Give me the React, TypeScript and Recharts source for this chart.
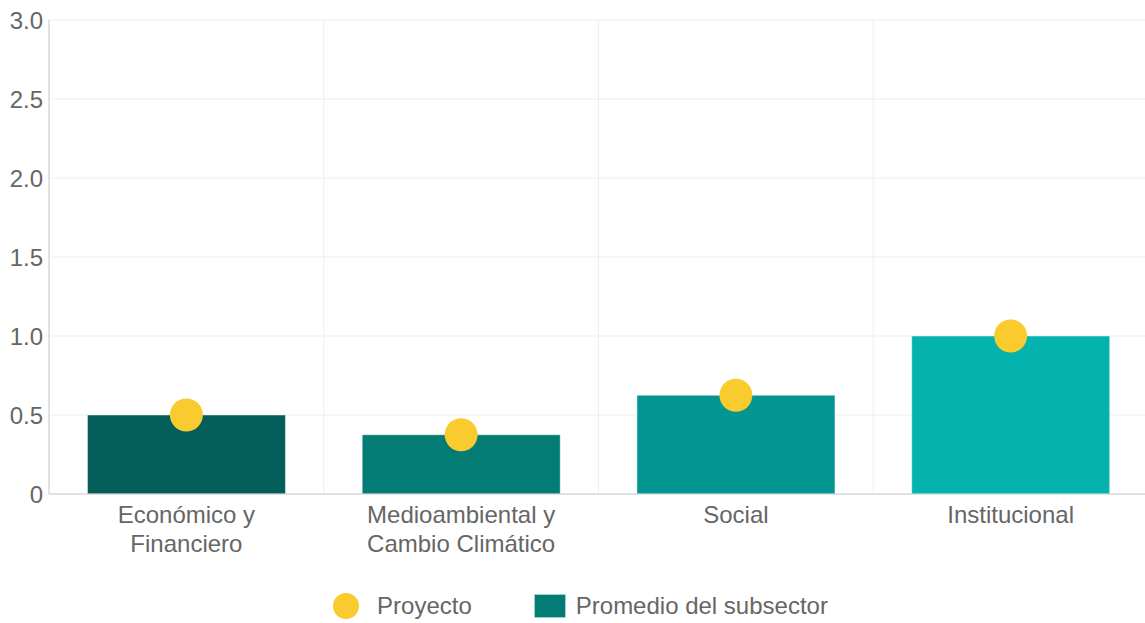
import React from "react";
import { ComposedChart, Bar, Line, XAxis, YAxis, CartesianGrid, Legend, Cell } from "recharts";

const categories = ["Económico y\nFinanciero", "Medioambiental y\nCambio Climático", "Social", "Institucional"];
const subsectorAverage = [0.5, 0.375, 0.625, 1.0];
const projectValues = [0.5, 0.375, 0.625, 1.0];
const yTicks = [0, 0.5, 1, 1.5, 2, 2.5, 3];
const barColors = ["#035E5A", "#047C76", "#03958F", "#04B2AE"];
const seriesNames = { project: "Proyecto", average: "Promedio del subsector" };

const data = categories.map((c, i) => ({ name: c, avg: subsectorAverage[i], proj: projectValues[i] }));

const FONT = "'Liberation Sans', Arial, sans-serif";
const TEXT = "#666666";

const XTick = (props: any) => {
  const { x, y, payload } = props;
  const lines = String(payload.value).split("\n");
  return (
    <text x={x} y={y} textAnchor="middle" fill={TEXT} fontSize={24} fontFamily={FONT}>
      {lines.map((l, i) => (
        <tspan key={i} x={x} dy={i === 0 ? 21 : 29}>{l}</tspan>
      ))}
    </text>
  );
};

const LegendContent = () => (
  <div style={{ height: 50, paddingTop: 16, paddingLeft: 13, boxSizing: "border-box", display: "flex", justifyContent: "center", alignItems: "flex-start", fontFamily: FONT, fontSize: 24, color: TEXT }}>
    <div style={{ display: "flex", alignItems: "center", marginRight: 62, height: 34 }}>
      <span style={{ width: 26, height: 26, borderRadius: "50%", background: "#F9CB2F", display: "inline-block", marginRight: 18 }} />
      <span>{seriesNames.project}</span>
    </div>
    <div style={{ display: "flex", alignItems: "center", height: 34 }}>
      <span style={{ width: 32, height: 24, background: "#047C76", border: "1px solid #9fd3cf", boxSizing: "border-box", display: "inline-block", marginRight: 10 }} />
      <span>{seriesNames.average}</span>
    </div>
  </div>
);

export default function App() {
  return (
    <div style={{ position: "absolute", left: 0, top: 0, width: 1145, height: 623, background: "#fff", overflow: "hidden" }}>
      <ComposedChart width={1148} height={623} data={data} margin={{ top: 20, right: 0, left: 0, bottom: 0 }} barCategoryGap="14%">
        <CartesianGrid
          stroke="#eeeeee"
          verticalCoordinatesGenerator={({ offset }: any) =>
            categories.map((_, i) => offset.left + (i * offset.width) / categories.length).concat([offset.left + offset.width])
          }
        />
        <XAxis
          dataKey="name"
          height={79}
          tick={<XTick />}
          tickLine={false}
          axisLine={{ stroke: "#cccccc" }}
          interval={0}
        />
        <YAxis
          width={49}
          domain={[0, 3]}
          ticks={yTicks}
          tickFormatter={(v: number) => (v === 0 ? "0" : v.toFixed(1))}
          tick={{ fill: TEXT, fontSize: 24, fontFamily: FONT }}
          tickLine={false}
          tickSize={0}
          axisLine={{ stroke: "#cccccc" }}
          tickMargin={6}
        />
        <Legend verticalAlign="bottom" height={50} content={<LegendContent />} />
        <Bar dataKey="avg" name={seriesNames.average} isAnimationActive={false} stroke="rgba(255,255,255,0.45)" strokeWidth={1}>
          {data.map((_, i) => (
            <Cell key={i} fill={barColors[i]} />
          ))}
        </Bar>
        <Line
          dataKey="proj"
          name={seriesNames.project}
          stroke="none"
          strokeWidth={0}
          isAnimationActive={false}
          dot={{ r: 16.5, fill: "#F9CB2F", stroke: "none" }}
          activeDot={false}
        />
      </ComposedChart>
    </div>
  );
}
